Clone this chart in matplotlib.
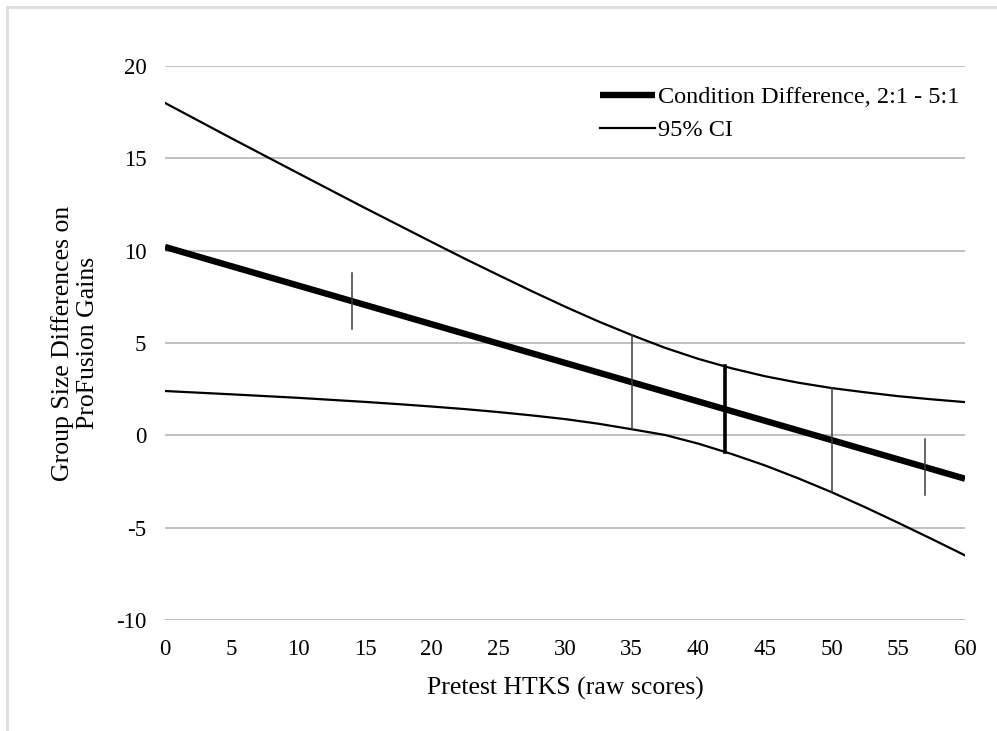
import numpy as np
import matplotlib.pyplot as plt
from matplotlib.lines import Line2D

# --- data ---
main_x = [0, 60]
main_y = [10.2, -2.35]

ci_x = [0, 5, 10, 15, 17.5, 20, 22.5, 25, 27.5, 30, 32.5, 35, 37.5, 40,
        42.5, 45, 47.5, 50, 52.5, 55, 57.5, 60]
upper_y = [18.0, 16.08, 14.19, 12.31, 11.39, 10.47, 9.56, 8.68, 7.81, 6.97, 6.17,
           5.43, 4.74, 4.14, 3.63, 3.20, 2.85, 2.56, 2.33, 2.12, 1.95, 1.80]
lower_y = [2.40, 2.22, 2.03, 1.81, 1.69, 1.56, 1.42, 1.26, 1.08, 0.88, 0.63,
           0.33, 0.02, -0.45, -1.01, -1.63, -2.33, -3.08, -3.89, -4.74, -5.61, -6.50]

# vertical marker segments (x, bottom, top)
seg_x = [14, 35, 42, 50, 57]
seg_lo = [5.78, 0.33, -0.90, -3.08, -3.25]
seg_hi = [8.79, 5.43, 3.74, 2.56, -0.22]
seg_w = [1.1, 1.1, 2.6, 1.1, 1.1]

xticks = list(range(0, 61, 5))
yticks = list(range(-10, 21, 5))

plt.rcParams['font.family'] = ['Liberation Serif', 'DejaVu Serif']
plt.rcParams['axes.unicode_minus'] = False

fig = plt.figure(figsize=(9.97, 7.31), dpi=100)
ax = fig.add_axes([165 / 997, 1 - 620 / 731, 800 / 997, 554 / 731])

for y in yticks:
    ax.axhline(y, color='#c0c0c0', lw=1.4, zorder=0)

ax.plot(main_x, main_y, color='black', lw=4.6, solid_capstyle='butt',
        label='Condition Difference, 2:1 - 5:1')
ax.plot(ci_x, upper_y, color='black', lw=1.6, label='95% CI')
ax.plot(ci_x, lower_y, color='black', lw=1.6)
for x, lo, hi, w in zip(seg_x, seg_lo, seg_hi, seg_w):
    ax.plot([x, x], [lo, hi], color='#3a3a3a' if w < 2 else 'black', lw=w)

ax.set_xlim(0, 60)
ax.set_ylim(-10, 20)
ax.set_xticks(xticks)
ax.set_yticks(yticks)
ax.tick_params(length=0, labelsize=16.5)
ax.tick_params(axis='x', pad=14)
ax.tick_params(axis='y', pad=13.5)
for s in ax.spines.values():
    s.set_visible(False)

ax.set_xlabel('Pretest HTKS (raw scores)', fontsize=18.5, labelpad=12)
ax.set_ylabel('Group Size Differences on\nProFusion Gains', fontsize=18.5,
              labelpad=12, linespacing=1.2)

leg = ax.legend(loc='upper right', bbox_to_anchor=(1.011, 0.99), frameon=False,
                fontsize=17.5, handlelength=2.3, handletextpad=0.1,
                labelspacing=0.45, borderaxespad=0.2)

# light frame on the left and top of the picture
fig.add_artist(Line2D([7 / 997, 7 / 997], [0, 1 - 7 / 731], color='#dedede', lw=2))
fig.add_artist(Line2D([7 / 997, 1], [1 - 7 / 731, 1 - 7 / 731], color='#dedede', lw=2))

fig.savefig('out.png', dpi=100)
